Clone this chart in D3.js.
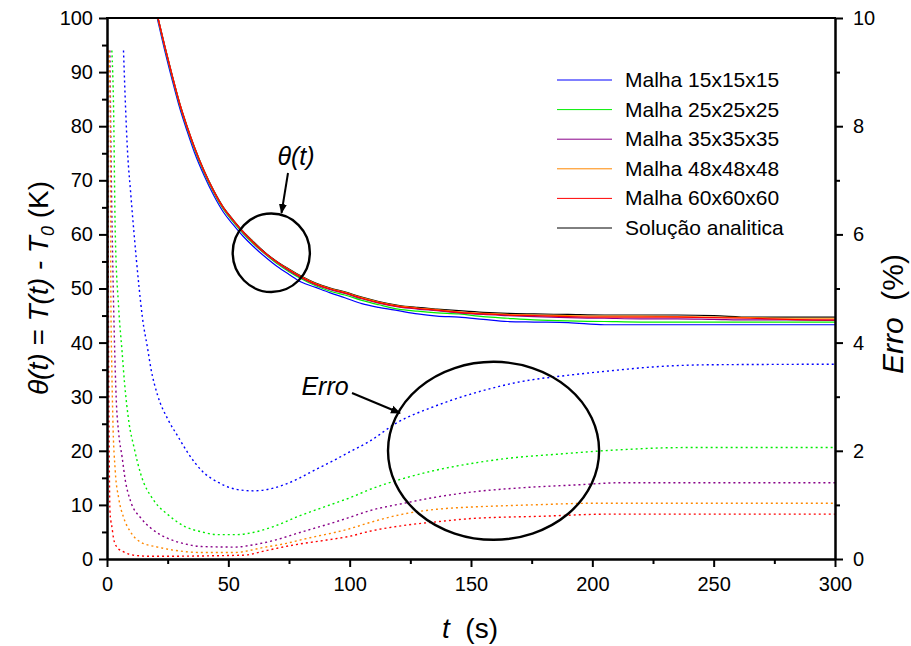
<!DOCTYPE html>
<html>
<head>
<meta charset="utf-8">
<script src="https://cdn.jsdelivr.net/npm/d3@7"></script>
<style>
  html, body { margin: 0; padding: 0; background: #fff; }
  svg { display: block; font-family: "Liberation Sans", Arial, sans-serif; }
</style>
</head>
<body>
<svg id="chart" width="911" height="646"></svg>
<script>
// ---- data -------------------------------------------------------------
const seriesNames = ["Malha 15x15x15", "Malha 25x25x25", "Malha 35x35x35",
                     "Malha 48x48x48", "Malha 60x60x60", "Solução analitica"];
const seriesColors = ["#0000ff", "#00ee00", "#880088", "#ff8800", "#ff0000", "#000000"];

// temperature excess theta(t), K (left axis)
const thetaTimes = [18, 21, 24, 27, 30, 33, 36, 40, 44, 48, 52, 56, 60, 65, 70, 75, 80, 86, 92, 98,
                    105, 112, 120, 128, 136, 145, 155, 165, 176, 190, 205, 220, 235, 250, 265, 280, 300];
const theta15 = [105.4, 99.4, 93.6, 88.3, 83.3, 79.1, 75.2, 70.9, 67.2, 64.1, 61.8, 59.7, 57.9, 55.9, 54.1, 52.6, 51.2, 50.2, 49.2, 48.3,
                 47.2, 46.5, 45.9, 45.3, 44.9, 44.7, 44.3, 43.9, 43.8, 43.7, 43.3, 43.3, 43.3, 43.3, 43.3, 43.3, 43.3];
const theta25 = [105.8, 99.8, 94.1, 88.8, 83.8, 79.6, 75.8, 71.4, 67.7, 64.6, 62.3, 60.2, 58.4, 56.4, 54.6, 53.1, 51.8, 50.5, 49.5, 48.8,
                 47.8, 47.0, 46.2, 45.8, 45.5, 45.3, 44.8, 44.5, 44.2, 44.0, 43.9, 43.8, 43.8, 43.8, 43.8, 43.8, 43.8];
const theta35 = [106.0, 100.0, 94.3, 89.0, 84.0, 79.8, 76.0, 71.6, 67.9, 64.8, 62.5, 60.4, 58.6, 56.5, 54.8, 53.3, 52.0, 50.7, 49.8, 49.1,
                 48.1, 47.3, 46.6, 46.2, 45.9, 45.5, 45.2, 45.0, 44.8, 44.6, 44.5, 44.4, 44.4, 44.3, 44.2, 44.2, 44.1];
const theta48 = [106.0, 100.0, 94.4, 89.1, 84.1, 79.9, 76.1, 71.7, 68.0, 64.9, 62.6, 60.5, 58.7, 56.6, 54.9, 53.5, 52.2, 50.9, 50.0, 49.3,
                 48.3, 47.5, 46.8, 46.4, 46.1, 45.7, 45.4, 45.2, 45.1, 45.0, 44.9, 44.9, 44.8, 44.7, 44.6, 44.5, 44.5];
const theta60 = [106.0, 100.0, 94.4, 89.1, 84.1, 79.9, 76.1, 71.7, 68.0, 64.9, 62.6, 60.5, 58.6, 56.6, 54.9, 53.4, 52.1, 50.8, 49.9, 49.2,
                 48.2, 47.4, 46.7, 46.3, 46.0, 45.6, 45.3, 45.1, 45.0, 44.8, 44.7, 44.7, 44.7, 44.6, 44.5, 44.3, 44.2];
const thetaExact = [106.1, 100.1, 94.5, 89.2, 84.2, 80.0, 76.2, 71.8, 68.1, 65.0, 62.7, 60.6, 58.8, 56.7, 55.0, 53.6, 52.3, 51.0, 50.1, 49.4,
                    48.4, 47.6, 46.9, 46.5, 46.2, 45.9, 45.6, 45.4, 45.3, 45.2, 45.1, 45.1, 45.1, 45.0, 44.7, 44.7, 44.7];

// relative error, % (right axis)
const err15T = [6.8, 7.6, 8.5, 9.7, 11.1, 13.2, 14.6, 16.7, 18.1, 20.9, 25.1, 29.3, 33.5, 39.1, 46.1, 53.1, 60.2, 68.6, 74, 79.5, 85,
                93.8, 100, 108, 119.5, 133.7, 150.8, 170.8, 190.8, 207.7, 225, 247.7, 300];
const err15 = [9.4, 8.4, 7.5, 6.8, 6.04, 5.03, 4.46, 3.9, 3.52, 3.02, 2.58, 2.26, 1.95, 1.63, 1.41, 1.29, 1.26, 1.31, 1.39, 1.5, 1.63,
               1.83, 1.98, 2.17, 2.52, 2.8, 3.06, 3.28, 3.4, 3.48, 3.55, 3.59, 3.6];
const err25T = [2.0, 2.7, 3.4, 4.8, 6.2, 7.2, 9.1, 11.1, 13.9, 19.5, 25.1, 32.1, 39.1, 46.1, 53.1, 60.2, 68.6, 79.5, 93.8, 100,
                108, 122.3, 136.4, 150.8, 165, 186.5, 207.7, 239, 300];
const err25 = [9.4, 8.36, 6.04, 4.65, 3.84, 3.27, 2.51, 2.07, 1.57, 1.07, 0.82, 0.6, 0.5, 0.45, 0.45, 0.49, 0.6, 0.8, 1.03, 1.13,
               1.28, 1.49, 1.65, 1.77, 1.86, 1.94, 2.01, 2.06, 2.06];
const err35T = [1.2, 1.8, 2.4, 3.0, 3.8, 4.8, 6.2, 7.6, 9.7, 13.9, 18.1, 25.1, 32.1, 39.1, 53, 60, 68.5, 79.5, 93.8, 100,
                108, 122.3, 136.4, 150.8, 172, 193.7, 212, 300];
const err35 = [9.4, 7.0, 5.4, 4.15, 2.96, 2.33, 1.89, 1.44, 1.07, 0.76, 0.57, 0.38, 0.28, 0.23, 0.22, 0.26, 0.34, 0.49, 0.68, 0.77,
               0.89, 1.03, 1.15, 1.24, 1.32, 1.37, 1.41, 1.41];
const err48T = [0.8, 1.3, 1.6, 2.0, 2.4, 3.4, 4.8, 6.9, 9.7, 13.9, 20.9, 27.9, 39, 53, 58, 63, 74, 79.5, 86.4, 93.8, 100,
                108, 122, 136, 150, 161, 175, 200, 300];
const err48 = [9.4, 8.3, 4.8, 3.5, 2.6, 1.63, 1.13, 0.76, 0.5, 0.31, 0.22, 0.16, 0.12, 0.12, 0.15, 0.2, 0.29, 0.35, 0.42, 0.49, 0.56,
               0.67, 0.83, 0.92, 0.96, 0.98, 1.0, 1.03, 1.03];
const err60T = [0.3, 0.6, 0.9, 1.2, 1.6, 2.0, 2.7, 4.1, 6.9, 11.1, 18, 56, 66, 77, 90.5, 100, 108, 122.3, 136.4,
                150.8, 179, 207.7, 300];
const err60 = [9.4, 4.5, 2.0, 0.9, 0.7, 0.6, 0.38, 0.22, 0.13, 0.07, 0.05, 0.07, 0.16, 0.26, 0.35, 0.42, 0.51, 0.62, 0.69,
               0.75, 0.79, 0.83, 0.83];

// axis ticks
const xMajorTicks = [0, 50, 100, 150, 200, 250, 300];
const xMinorTicks = [25, 75, 125, 175, 225, 275];
const yLeftMajorTicks = [0, 10, 20, 30, 40, 50, 60, 70, 80, 90, 100];
const yLeftMinorTicks = [5, 15, 25, 35, 45, 55, 65, 75, 85, 95];
const yRightMajorTicks = [0, 2, 4, 6, 8, 10];
const yRightMinorTicks = [1, 3, 5, 7, 9];

// ---- layout -----------------------------------------------------------
const svg = d3.select("#chart");
const x = d3.scaleLinear().domain([0, 300]).range([107, 835]);
const yL = d3.scaleLinear().domain([0, 100]).range([559, 18]);
const yR = d3.scaleLinear().domain([0, 10]).range([559, 18]);

svg.append("defs").append("clipPath").attr("id", "plotClip")
  .append("rect").attr("x", x(0)).attr("y", yL(100))
  .attr("width", x(300) - x(0)).attr("height", yL(0) - yL(100));

svg.select("defs").append("marker")
  .attr("id", "arrowHead").attr("viewBox", "0 0 10 10")
  .attr("refX", 9).attr("refY", 5).attr("markerWidth", 5).attr("markerHeight", 5)
  .attr("markerUnits", "strokeWidth").attr("orient", "auto")
  .append("path").attr("d", "M0,1 L10,5 L0,9 Z").attr("fill", "#000");

const plot = svg.append("g").attr("clip-path", "url(#plotClip)");

// error curves (dotted, right axis)
const errSets = [[err15T, err15], [err25T, err25], [err35T, err35], [err48T, err48], [err60T, err60]];
const errLine = d3.line().x(d => x(d[0])).y(d => yR(d[1])).curve(d3.curveMonotoneX);
errSets.forEach((s, i) => {
  const pts = s[0].map((t, k) => [t, s[1][k]]);
  plot.append("path").datum(pts)
    .attr("fill", "none").attr("stroke", seriesColors[i])
    .attr("stroke-width", 1.4).attr("stroke-dasharray", "2,3")
    .attr("d", errLine);
});

// theta curves (solid, left axis)
const thetaSets = [theta15, theta25, theta35, theta48, theta60, thetaExact];
const thetaLine = d3.line().x(d => x(d[0])).y(d => yL(d[1])).curve(d3.curveMonotoneX);
const drawOrder = [5, 0, 1, 2, 3, 4];
drawOrder.forEach(i => {
  const pts = thetaTimes.map((t, k) => [t, thetaSets[i][k]]);
  plot.append("path").datum(pts)
    .attr("fill", "none").attr("stroke", seriesColors[i])
    .attr("stroke-width", 1.2)
    .attr("d", thetaLine);
});

// ---- axes -------------------------------------------------------------
const tickFont = 20;
function styleAxis(g) {
  g.select(".domain").attr("stroke-width", 2);
  g.selectAll(".tick line").attr("stroke-width", 2);
  g.selectAll(".tick text").attr("font-size", tickFont)
    .attr("font-family", "Liberation Sans, Arial, sans-serif").attr("fill", "#000");
}
svg.append("g").attr("transform", `translate(0,${yL(0)})`)
  .call(d3.axisBottom(x).tickValues(xMajorTicks).tickSize(8).tickPadding(10).tickSizeOuter(0))
  .call(styleAxis);
svg.append("g").attr("transform", `translate(0,${yL(0)})`)
  .call(d3.axisBottom(x).tickValues(xMinorTicks).tickSize(5).tickFormat("").tickSizeOuter(0))
  .call(styleAxis);
svg.append("g").attr("transform", `translate(${x(0)},0)`)
  .call(d3.axisLeft(yL).tickValues(yLeftMajorTicks).tickSize(8).tickPadding(6).tickSizeOuter(0))
  .call(styleAxis);
svg.append("g").attr("transform", `translate(${x(0)},0)`)
  .call(d3.axisLeft(yL).tickValues(yLeftMinorTicks).tickSize(5).tickFormat("").tickSizeOuter(0))
  .call(styleAxis);
svg.append("g").attr("transform", `translate(${x(300)},0)`)
  .call(d3.axisRight(yR).tickValues(yRightMajorTicks).tickSize(8).tickPadding(10).tickSizeOuter(0))
  .call(styleAxis);
svg.append("g").attr("transform", `translate(${x(300)},0)`)
  .call(d3.axisRight(yR).tickValues(yRightMinorTicks).tickSize(5).tickFormat("").tickSizeOuter(0))
  .call(styleAxis);
// top frame line
svg.append("line").attr("x1", x(0) - 1).attr("x2", x(300) + 1)
  .attr("y1", yL(100)).attr("y2", yL(100)).attr("stroke", "#000").attr("stroke-width", 2);

// axis titles
const titleFont = 28;
const xt = svg.append("text").attr("x", 470).attr("y", 638)
  .attr("text-anchor", "middle").attr("font-size", titleFont);
xt.append("tspan").attr("font-style", "italic").text("t");
xt.append("tspan").text("\u00a0\u00a0(s)");

const yt = svg.append("text").attr("transform", "translate(48,288) rotate(-90)")
  .attr("text-anchor", "middle").attr("font-size", titleFont);
yt.append("tspan").attr("font-style", "italic").text("θ(t) = T(t) - T");
yt.append("tspan").attr("font-style", "italic").attr("font-size", 18).attr("dy", 6).text("0");
yt.append("tspan").attr("dy", -6).text("\u00a0(K)");

const rt = svg.append("text").attr("transform", "translate(903,314) rotate(-90)")
  .attr("text-anchor", "middle").attr("font-size", 30);
rt.append("tspan").attr("font-style", "italic").text("Erro");
rt.append("tspan").text("\u00a0\u00a0(%)");

// ---- legend -----------------------------------------------------------
const legend = svg.append("g");
seriesNames.forEach((name, i) => {
  const yy = 80 + i * 29.6;
  legend.append("line").attr("x1", 557).attr("x2", 612).attr("y1", yy).attr("y2", yy)
    .attr("stroke", seriesColors[i]).attr("stroke-width", 1);
  legend.append("text").attr("x", 625).attr("y", yy + 7).attr("font-size", 21).text(name);
});

// ---- annotations ------------------------------------------------------
const ring1 = { t: 67.7, v: 56.6, rt: 15.9, rv: 7.25 };
const ring2 = { t: 159.3, v: 20.0, rt: 43.5, rv: 16.45 };
[ring1, ring2].forEach(r => {
  svg.append("ellipse")
    .attr("cx", x(r.t)).attr("cy", yL(r.v))
    .attr("rx", x(r.t + r.rt) - x(r.t)).attr("ry", yL(r.v - r.rv) - yL(r.v))
    .attr("fill", "none").attr("stroke", "#000").attr("stroke-width", 2.4);
});

svg.append("text").attr("x", 296).attr("y", 165).attr("text-anchor", "middle")
  .attr("font-size", 25).attr("font-style", "italic").text("θ(t)");
svg.append("line").attr("x1", 288).attr("y1", 173).attr("x2", 281.5).attr("y2", 213)
  .attr("stroke", "#000").attr("stroke-width", 2).attr("marker-end", "url(#arrowHead)");

svg.append("text").attr("x", 325).attr("y", 395).attr("text-anchor", "middle")
  .attr("font-size", 25).attr("font-style", "italic").text("Erro");
svg.append("line").attr("x1", 352).attr("y1", 393).attr("x2", 400).attr("y2", 413)
  .attr("stroke", "#000").attr("stroke-width", 2).attr("marker-end", "url(#arrowHead)");
</script>
</body>
</html>
